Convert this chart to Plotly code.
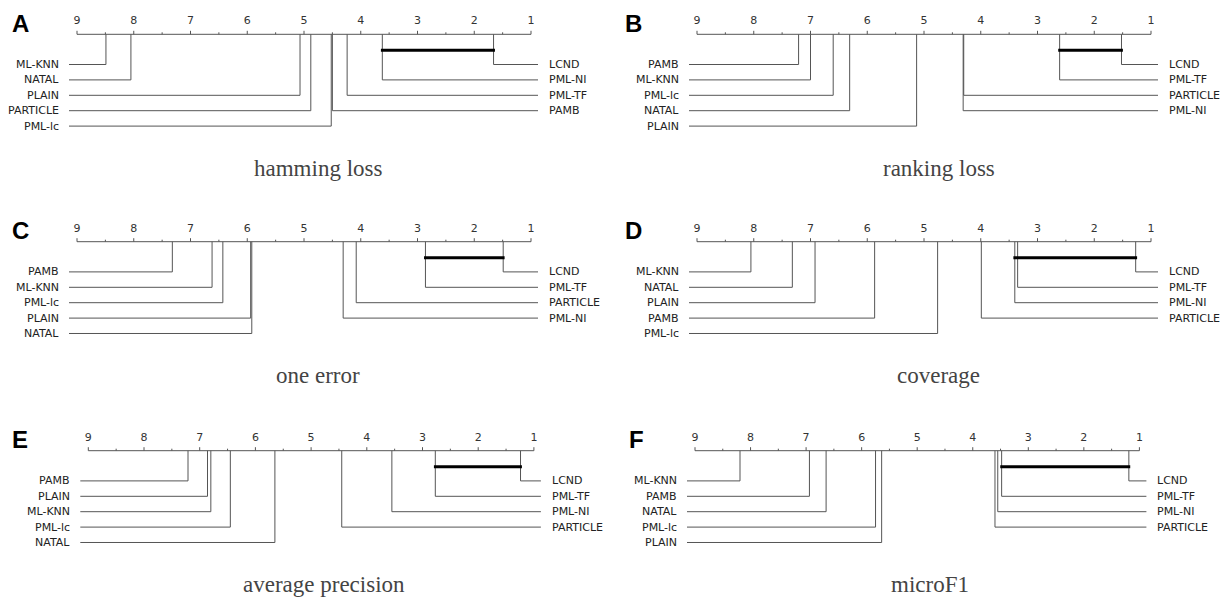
import plotly.graph_objects as go

# ---------------- data ----------------
methods = ["LCND", "PML-NI", "PML-TF", "PAMB", "PML-lc", "PARTICLE", "PLAIN", "NATAL", "ML-KNN"]

panel_letters = ["A", "B", "C", "D", "E", "F"]
panel_titles = ["hamming loss", "ranking loss", "one error", "coverage", "average precision", "microF1"]

# average ranks, same order as `methods`
rank_hamming_loss = [1.66, 3.62, 4.24, 4.50, 4.52, 4.88, 5.07, 8.05, 8.49]
rank_ranking_loss = [1.52, 4.31, 2.61, 7.21, 6.60, 4.30, 5.13, 6.31, 7.00]
rank_one_error = [1.49, 4.31, 2.86, 7.32, 6.43, 4.08, 5.94, 5.92, 6.62]
rank_coverage = [1.27, 3.40, 3.35, 5.87, 4.76, 3.99, 6.92, 7.32, 8.05]
rank_average_precision = [1.24, 3.55, 2.77, 7.21, 6.45, 4.45, 6.86, 5.65, 6.80]
rank_microF1 = [1.19, 3.55, 3.48, 6.94, 5.75, 3.60, 5.64, 6.64, 8.19]

# groups of methods not significantly different (bar endpoints)
clique_hamming_loss = ["PML-NI", "LCND"]
clique_ranking_loss = ["PML-TF", "LCND"]
clique_one_error = ["PML-TF", "LCND"]
clique_coverage = ["PML-NI", "LCND"]
clique_average_precision = ["PML-TF", "LCND"]
clique_microF1 = ["PML-TF", "LCND"]

tick_values = [9, 8, 7, 6, 5, 4, 3, 2, 1]

all_ranks = [rank_hamming_loss, rank_ranking_loss, rank_one_error,
             rank_coverage, rank_average_precision, rank_microF1]
all_cliques = [clique_hamming_loss, clique_ranking_loss, clique_one_error,
               clique_coverage, clique_average_precision, clique_microF1]

# ---------------- layout geometry (page pixels) ----------------
W, H = 1222, 597
COL_W = 611
PANEL_H = 180
row_tops = [0, 207.4, 416.4]
# per panel: (col, row, x of rank 9, x of rank 1, title centre x, letter left x)
geom = [
    (0, 0, 77.0, 531.0, 318, 10),
    (1, 0, 86.0, 540.0, 328, 12),
    (0, 1, 77.0, 531.0, 318, 10),
    (1, 1, 86.0, 540.0, 327, 12),
    (0, 2, 88.3, 533.9, 324, 10),
    (1, 2, 84.0, 528.4, 319, 16),
]
AXIS_Y = 34.3
TICKLABEL_Y = 21.7
BAR_Y = 50.3
ROW0_Y = 64.5
ROW_STEP = 15.4
TITLE_Y = 168
LETTER_Y = 23

LINE_COL = "#555555"
TEXT_COL = "#222222"
LABEL_FONT = dict(family="DejaVu Sans", size=11, color=TEXT_COL)

fig = go.Figure()
layout = dict(width=W, height=H, margin=dict(l=0, r=0, t=0, b=0),
              plot_bgcolor="white", paper_bgcolor="white", showlegend=False)
annotations = []

for i, (ranks, clique) in enumerate(zip(all_ranks, all_cliques)):
    col, row, x9, x1, title_cx, letter_x = geom[i]
    u = (x1 - x9) / 8.0

    def p2r(p, x9=x9, u=u):
        return 9 - (p - x9) / u

    n = i + 1
    xa = "x" if n == 1 else f"x{n}"
    ya = "y" if n == 1 else f"y{n}"
    top = row_tops[row]
    bottom = min(top + PANEL_H, H)

    layout["xaxis" if n == 1 else f"xaxis{n}"] = dict(
        domain=[col * COL_W / W, min((col + 1) * COL_W / W, 1)],
        range=[p2r(0), p2r(COL_W)], visible=False, fixedrange=True,
        anchor=ya)
    layout["yaxis" if n == 1 else f"yaxis{n}"] = dict(
        domain=[max(1 - bottom / H, 0), 1 - top / H],
        range=[bottom - top, 0], visible=False, fixedrange=True, anchor=xa)

    # rank axis line
    fig.add_trace(go.Scatter(x=[max(tick_values), min(tick_values)], y=[AXIS_Y, AXIS_Y],
                             mode="lines", line=dict(color=LINE_COL, width=1),
                             xaxis=xa, yaxis=ya, hoverinfo="skip"))
    # ticks (major + half ticks)
    tx, ty = [], []
    for t in tick_values:
        tx += [t, t, None]
        ty += [AXIS_Y, AXIS_Y - 3.5, None]
    for t in tick_values[:-1]:
        h = t - 0.5
        tx += [h, h, None]
        ty += [AXIS_Y, AXIS_Y - 2, None]
    fig.add_trace(go.Scatter(x=tx, y=ty, mode="lines",
                             line=dict(color=LINE_COL, width=1),
                             xaxis=xa, yaxis=ya, hoverinfo="skip"))
    # tick labels
    fig.add_trace(go.Scatter(x=tick_values, y=[TICKLABEL_Y] * len(tick_values),
                             mode="text", text=[str(t) for t in tick_values],
                             textposition="middle center",
                             textfont=dict(family="DejaVu Sans", size=11, color="#333333"),
                             xaxis=xa, yaxis=ya, hoverinfo="skip", cliponaxis=False))

    # methods: best half on the right, worst on the left
    order = sorted(range(len(methods)), key=lambda k: ranks[k])
    n_right = len(methods) // 2
    right = order[:n_right]
    left = list(reversed(order[n_right:]))

    cx, cy = [], []
    for j, k in enumerate(left):
        yy = ROW0_Y + j * ROW_STEP
        cx += [ranks[k], ranks[k], p2r(x9 - 8), None]
        cy += [AXIS_Y, yy, yy, None]
        annotations.append(dict(x=p2r(x9 - 16), y=yy, xref=xa, yref=ya,
                                text=methods[k], showarrow=False,
                                xanchor="right", yanchor="middle", font=LABEL_FONT))
    for j, k in enumerate(right):
        yy = ROW0_Y + j * ROW_STEP
        cx += [ranks[k], ranks[k], p2r(x1 + 7), None]
        cy += [AXIS_Y, yy, yy, None]
        annotations.append(dict(x=p2r(x1 + 16), y=yy, xref=xa, yref=ya,
                                text=methods[k], showarrow=False,
                                xanchor="left", yanchor="middle", font=LABEL_FONT))
    fig.add_trace(go.Scatter(x=cx, y=cy, mode="lines",
                             line=dict(color=LINE_COL, width=1),
                             xaxis=xa, yaxis=ya, hoverinfo="skip"))

    # clique bar
    r_a = ranks[methods.index(clique[0])]
    r_b = ranks[methods.index(clique[1])]
    fig.add_trace(go.Scatter(x=[max(r_a, r_b) + 0.025, min(r_a, r_b) - 0.025],
                             y=[BAR_Y, BAR_Y], mode="lines",
                             line=dict(color="#000000", width=3),
                             xaxis=xa, yaxis=ya, hoverinfo="skip"))

    # title
    annotations.append(dict(x=p2r(title_cx), y=TITLE_Y, xref=xa, yref=ya,
                            text=panel_titles[i], showarrow=False,
                            xanchor="center", yanchor="middle",
                            font=dict(family="Liberation Serif", size=23, color="#444444")))
    # panel letter
    annotations.append(dict(x=p2r(letter_x), y=LETTER_Y, xref=xa, yref=ya,
                            text="<b>" + panel_letters[i] + "</b>", showarrow=False,
                            xanchor="left", yanchor="middle",
                            font=dict(family="Liberation Sans", size=24, color="#000000")))

layout["annotations"] = annotations
fig.update_layout(**layout)
fig.write_html("out.html",
               config={"displayModeBar": False, "staticPlot": True},
               post_script="document.body.style.margin='0px';"
                           "document.body.style.overflow='hidden';")
